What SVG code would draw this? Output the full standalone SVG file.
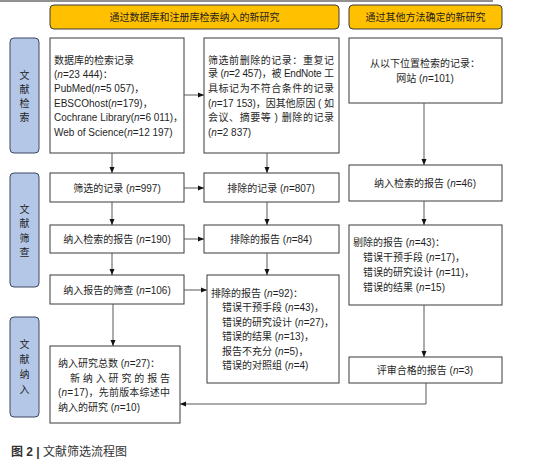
<svg xmlns="http://www.w3.org/2000/svg" width="548" height="468" viewBox="0 0 548 468">
<defs>
<style>
text{font-family:"Liberation Sans","Noto Sans CJK SC",sans-serif;font-size:10px;fill:#1f1f1f}
.i{font-style:italic}
.m{text-anchor:middle}
.box{fill:#fff;stroke:#3a3a3a;stroke-width:1}
.hdr{fill:#ffc000;stroke:#3a3a3a;stroke-width:1}
.lbl{fill:#b4c7e7;stroke:#3b4660;stroke-width:1}
.c{fill:none;stroke:#595959;stroke-width:1}
</style>
<marker id="ah" viewBox="0 0 6 6" refX="6" refY="3" markerWidth="6" markerHeight="6" orient="auto" markerUnits="userSpaceOnUse">
<path d="M0,0.5 L6,3 L0,5.5 Z" fill="#111"/>
</marker>
</defs>
<rect width="548" height="468" fill="#fff"/>
<line x1="0" y1="1" x2="493" y2="1" stroke="#222" stroke-width="1"/>

<g id="hdr1"><rect class="hdr" x="50" y="5" width="289" height="24" rx="4"/><text class="m" x="194.5" y="20.5">通过数据库和注册库检索纳入的新研究</text></g>
<g id="hdr2"><rect class="hdr" x="349" y="5" width="153" height="24" rx="4"/><text class="m" x="425.5" y="20.5">通过其他方法确定的新研究</text></g>

<g id="lbl1"><rect class="lbl" x="10" y="38" width="29" height="115" rx="4"/>
<text class="m" x="24.5" y="78.5">文</text><text class="m" x="24.5" y="92.5">献</text><text class="m" x="24.5" y="106.5">检</text><text class="m" x="24.5" y="120.5">索</text></g>
<g id="lbl2"><rect class="lbl" x="10" y="173" width="29" height="114" rx="4"/>
<text class="m" x="24.5" y="212.5">文</text><text class="m" x="24.5" y="227">献</text><text class="m" x="24.5" y="241.5">筛</text><text class="m" x="24.5" y="256">查</text></g>
<g id="lbl3"><rect class="lbl" x="10" y="317" width="29" height="100" rx="4"/>
<text class="m" x="24.5" y="347.5">文</text><text class="m" x="24.5" y="362.5">献</text><text class="m" x="24.5" y="377.5">纳</text><text class="m" x="24.5" y="392.5">入</text></g>

<g id="n1"><rect class="box" x="50" y="38" width="134" height="115"/>
<text x="54" y="63.5">数据库的检索记录</text>
<text x="54" y="77.5">(<tspan class="i">n</tspan>=23 444)：</text>
<text x="54" y="91.5">PubMed(<tspan class="i">n</tspan>=5 057)，</text>
<text x="54" y="106.5">EBSCOhost(<tspan class="i">n</tspan>=179)，</text>
<text x="54" y="120.5">Cochrane Library(<tspan class="i">n</tspan>=6 011)，</text>
<text x="54" y="135.5">Web of Science(<tspan class="i">n</tspan>=12 197)</text></g>

<g id="n2"><rect class="box" x="204" y="38" width="135" height="115"/>
<text x="208" y="63.5" textLength="126" lengthAdjust="spacing">筛选前删除的记录：重复记</text>
<text x="208" y="77" textLength="126" lengthAdjust="spacing">录 (<tspan class="i">n</tspan>=2 457)，被 EndNote 工</text>
<text x="208" y="91.5" textLength="126" lengthAdjust="spacing">具标记为不符合条件的记录</text>
<text x="208" y="106.5" textLength="126" lengthAdjust="spacing">(<tspan class="i">n</tspan>=17 153)，因其他原因 ( 如</text>
<text x="208" y="120.5" textLength="126" lengthAdjust="spacing">会议、摘要等 ) 删除的记录</text>
<text x="208" y="135.5">(<tspan class="i">n</tspan>=2 837)</text></g>

<g id="n3"><rect class="box" x="349" y="38" width="153" height="65"/>
<text class="m" x="425" y="66.5">从以下位置检索的记录：</text>
<text class="m" x="425" y="81.5">网站 (<tspan class="i">n</tspan>=101)</text></g>

<g id="n4"><rect class="box" x="50" y="173" width="134" height="29"/><text class="m" x="117" y="191.5">筛选的记录 (<tspan class="i">n</tspan>=997)</text></g>
<g id="n5"><rect class="box" x="204" y="173" width="135" height="29"/><text class="m" x="271" y="191.5">排除的记录 (<tspan class="i">n</tspan>=807)</text></g>
<g id="n6"><rect class="box" x="349" y="165" width="153" height="36"/><text class="m" x="425" y="187">纳入检索的报告 (<tspan class="i">n</tspan>=46)</text></g>

<g id="n7"><rect class="box" x="50" y="225" width="134" height="28"/><text class="m" x="117" y="242.5">纳入检索的报告 (<tspan class="i">n</tspan>=190)</text></g>
<g id="n8"><rect class="box" x="204" y="225" width="135" height="28"/><text class="m" x="271" y="242.5">排除的报告 (<tspan class="i">n</tspan>=84)</text></g>
<g id="n9"><rect class="box" x="349" y="225" width="153" height="80"/>
<text x="353" y="245.5">剔除的报告 (<tspan class="i">n</tspan>=43)：</text>
<text x="363" y="261">错误干预手段 (<tspan class="i">n</tspan>=17)，</text>
<text x="363" y="276">错误的研究设计 (<tspan class="i">n</tspan>=11)，</text>
<text x="363" y="290.5">错误的结果 (<tspan class="i">n</tspan>=15)</text></g>

<g id="n10"><rect class="box" x="50" y="275" width="134" height="29"/><text class="m" x="117" y="293.5">纳入报告的筛查 (<tspan class="i">n</tspan>=106)</text></g>
<g id="n11"><rect class="box" x="207" y="275" width="132" height="108"/>
<text x="211" y="296.5">排除的报告 (<tspan class="i">n</tspan>=92)：</text>
<text x="222" y="311">错误干预手段 (<tspan class="i">n</tspan>=43)，</text>
<text x="222" y="325.5">错误的研究设计 (<tspan class="i">n</tspan>=27)，</text>
<text x="222" y="340">错误的结果 (<tspan class="i">n</tspan>=13)，</text>
<text x="222" y="354.5">报告不充分 (<tspan class="i">n</tspan>=5)，</text>
<text x="222" y="369">错误的对照组 (<tspan class="i">n</tspan>=4)</text></g>

<g id="n12"><rect class="box" x="349" y="357" width="153" height="26"/><text class="m" x="425" y="374">评审合格的报告 (<tspan class="i">n</tspan>=3)</text></g>

<g id="n13"><rect class="box" x="50" y="346" width="130" height="77"/>
<text x="58" y="366.5">纳入研究总数 (<tspan class="i">n</tspan>=27)：</text>
<text x="70" y="381.5" textLength="100" lengthAdjust="spacing">新纳入研究的报告</text>
<text x="58" y="395.5" textLength="112" lengthAdjust="spacing">(<tspan class="i">n</tspan>=17)，先前版本综述中</text>
<text x="58" y="410.5">纳入的研究 (<tspan class="i">n</tspan>=10)</text></g>

<g id="connectors">
<line class="c" x1="184" y1="95" x2="204" y2="95" marker-end="url(#ah)"/>
<line class="c" x1="112" y1="153" x2="112" y2="173" marker-end="url(#ah)"/>
<line class="c" x1="267" y1="153" x2="267" y2="173" marker-end="url(#ah)"/>
<line class="c" x1="424" y1="103" x2="424" y2="165" marker-end="url(#ah)"/>
<line class="c" x1="184" y1="188" x2="204" y2="188" marker-end="url(#ah)"/>
<line class="c" x1="112" y1="202" x2="112" y2="225" marker-end="url(#ah)"/>
<line class="c" x1="267" y1="202" x2="267" y2="225" marker-end="url(#ah)"/>
<line class="c" x1="424" y1="201" x2="424" y2="225" marker-end="url(#ah)"/>
<line class="c" x1="184" y1="239" x2="204" y2="239" marker-end="url(#ah)"/>
<line class="c" x1="112" y1="253" x2="112" y2="275" marker-end="url(#ah)"/>
<line class="c" x1="267" y1="253" x2="267" y2="275" marker-end="url(#ah)"/>
<line class="c" x1="184" y1="290" x2="207" y2="290" marker-end="url(#ah)"/>
<line class="c" x1="424" y1="305" x2="424" y2="357" marker-end="url(#ah)"/>
<line class="c" x1="113" y1="304" x2="113" y2="346" marker-end="url(#ah)"/>
<polyline class="c" points="426,383 426,404 180,404" marker-end="url(#ah)"/>
</g>

<text x="11" y="455.5" style="font-size:12px;fill:#333"><tspan font-weight="bold">图 2 | </tspan>文献筛选流程图</text>
</svg>
